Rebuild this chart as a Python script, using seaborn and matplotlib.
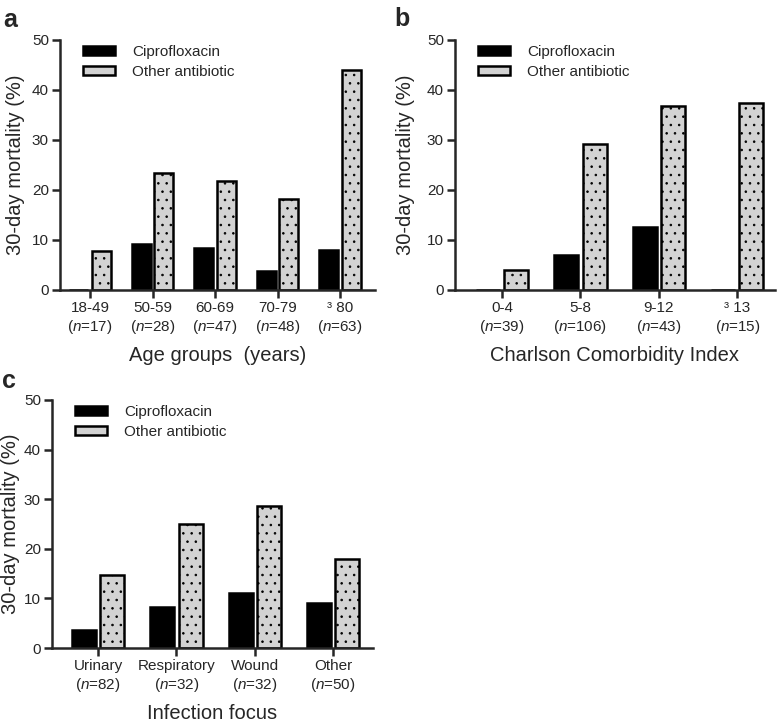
import pandas as pd
import matplotlib
matplotlib.use("Agg")
import matplotlib.pyplot as plt
import seaborn as sns
from matplotlib.patches import Patch

# Panel a: age groups
age_groups = ["18-49", "50-59", "60-69", "70-79", "³ 80"]
age_n = [17, 28, 47, 48, 63]
age_cipro = [0.0, 9.2, 8.4, 3.8, 8.0]
age_other = [7.7, 23.4, 21.7, 18.2, 43.9]

# Panel b: Charlson comorbidity index
cci_groups = ["0-4", "5-8", "9-12", "³ 13"]
cci_n = [39, 106, 43, 15]
cci_cipro = [0.0, 7.0, 12.5, 0.0]
cci_other = [4.0, 29.2, 36.8, 37.4]

# Panel c: infection focus
focus_groups = ["Urinary", "Respiratory", "Wound", "Other"]
focus_n = [82, 32, 32, 50]
focus_cipro = [3.7, 8.3, 11.1, 9.1]
focus_other = [14.8, 25.0, 28.6, 17.9]

drugs = ["Ciprofloxacin", "Other antibiotic"]
colors = ["black", "#d3d3d3"]

sns.set_style("ticks")
plt.rcParams["font.family"] = ["Liberation Sans", "DejaVu Sans"]
plt.rcParams["mathtext.fontset"] = "custom"
plt.rcParams["mathtext.rm"] = "Liberation Sans"
plt.rcParams["mathtext.it"] = "Liberation Sans:italic"
plt.rcParams["hatch.linewidth"] = 0.6
plt.rcParams["hatch.color"] = "#222222"

W, H = 780, 728
fig = plt.figure(figsize=(W / 100, H / 100), dpi=100)


def px_axes(left, top, right, bottom):
    return fig.add_axes([left / W, 1 - bottom / H, (right - left) / W, (bottom - top) / H])


def make_df(groups, cipro, other):
    rows = []
    for g, c, o in zip(groups, cipro, other):
        rows.append({"group": g, "drug": drugs[0], "mortality": c})
        rows.append({"group": g, "drug": drugs[1], "mortality": o})
    return pd.DataFrame(rows)


def panel(ax, groups, n, cipro, other, xlabel, xlim, letter, letter_xy, ylab_x):
    df = make_df(groups, cipro, other)
    sns.barplot(data=df, x="group", y="mortality", hue="drug", hue_order=drugs,
                palette=colors, width=0.72, gap=0.15, edgecolor="black",
                linewidth=1.8, legend=False, ax=ax)
    for bar in ax.containers[1]:
        bar.set_hatch("..")
    ax.set_ylim(0, 50)
    ax.set_yticks([0, 10, 20, 30, 40, 50])
    ax.set_xlim(*xlim)
    ax.set_xticks(range(len(groups)))
    ax.set_xticklabels([f"{g}\n($\\it{{n}}$={k})" for g, k in zip(groups, n)],
                       fontsize=11, linespacing=1.25)
    ax.tick_params(axis="y", labelsize=11, width=1.8, length=6, pad=2)
    ax.tick_params(axis="x", width=1.8, length=6, pad=2)
    sns.despine(ax=ax)
    for s in ["left", "bottom"]:
        ax.spines[s].set_linewidth(1.8)
    ax.set_ylabel("30-day mortality (%)", fontsize=14.5)
    ax.yaxis.set_label_coords(ylab_x, 0.5)
    ax.set_xlabel(xlabel, fontsize=14.5, labelpad=7)
    handles = [Patch(facecolor=c, edgecolor="black", linewidth=1.8) for c in colors]
    ax.legend(handles, drugs, loc="upper left", bbox_to_anchor=(0.03, 1.035),
              frameon=False, fontsize=11, handlelength=2.1, handleheight=0.5,
              handletextpad=1.1, labelspacing=0.4)
    fig.text(letter_xy[0] / W, 1 - letter_xy[1] / H, letter, fontsize=18,
             fontweight="bold", va="baseline", ha="left")


ax_a = px_axes(60, 40, 375, 290)
panel(ax_a, age_groups, age_n, age_cipro, age_other, "Age groups  (years)",
      (-0.48, 4.56), "a", (3, 27), -0.11)

ax_b = px_axes(455, 40, 775, 290)
panel(ax_b, cci_groups, cci_n, cci_cipro, cci_other, "Charlson Comorbidity Index",
      (-0.6, 3.48), "b", (394, 26), -0.125)

ax_c = px_axes(52, 400, 373, 648)
panel(ax_c, focus_groups, focus_n, focus_cipro, focus_other, "Infection focus",
      (-0.59, 3.51), "c", (2, 388), -0.10)

fig.savefig("out.png", dpi=100)
